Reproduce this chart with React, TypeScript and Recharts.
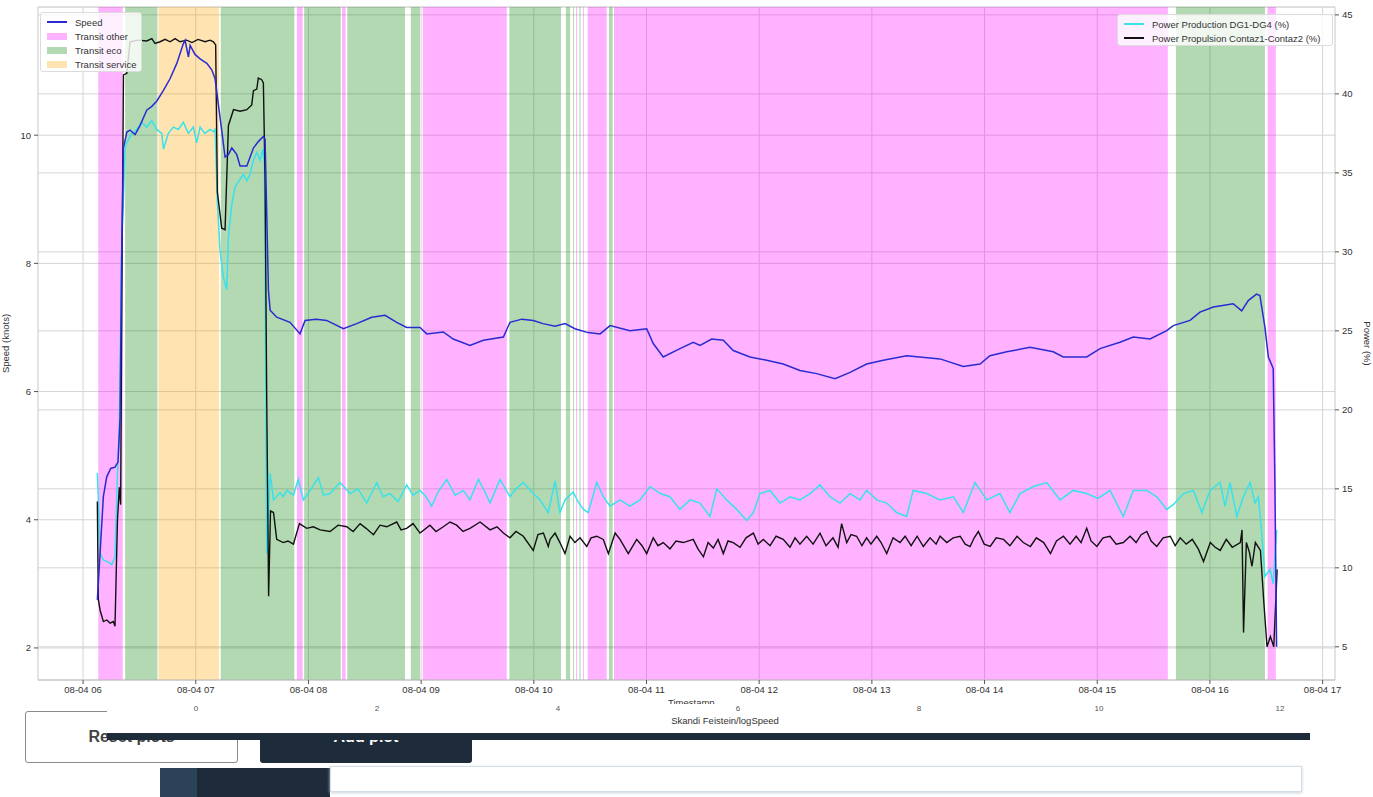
import React from 'react';
import {
  LineChart, Line, XAxis, YAxis, CartesianGrid, ReferenceArea,
} from 'recharts';

// time = minutes since midnight on 08-04
const HOUR_TICKS = [360, 420, 480, 540, 600, 660, 720, 780, 840, 900, 960, 1020];
const SPEED_TICKS = [2, 4, 6, 8, 10];
const POWER_TICKS = [5, 10, 15, 20, 25, 30, 35, 40, 45];

const speedSeries: [number, number][] = [
  [367.6, 2.75], [369.1, 3.5], [370.8, 4.36], [372.6, 4.67], [374.7, 4.8], [377.0, 4.82], [378.6, 4.9], [379.7, 5.6],
  [380.5, 8.0], [381.5, 9.8], [383.3, 10.05], [385.0, 10.08], [387.7, 10.01], [390.3, 10.15], [393.9, 10.39], [396.6, 10.45],
  [399.2, 10.53], [402.8, 10.7], [406.3, 10.88], [409.9, 11.12], [413.4, 11.43], [414.3, 11.48], [416.1, 11.22], [417.0, 11.4],
  [419.6, 11.26], [422.3, 11.19], [425.9, 11.12], [428.5, 11.02], [430.3, 10.88], [432.0, 10.49], [433.8, 10.08], [435.6, 9.66],
  [437.4, 9.7], [439.2, 9.8], [441.8, 9.7], [443.6, 9.52], [447.2, 9.52], [450.7, 9.8], [453.3, 9.9], [456.0, 9.98],
  [456.9, 9.94], [458.7, 7.58], [459.6, 7.27], [463.1, 7.16], [470.2, 7.08], [475.5, 6.9], [478.2, 7.11], [484.1, 7.13],
  [489.7, 7.11], [498.6, 6.98], [505.7, 7.06], [513.7, 7.16], [520.8, 7.19], [527.0, 7.08], [532.3, 7.0], [539.4, 7.0],
  [543.0, 6.9], [551.8, 6.93], [557.1, 6.82], [566.0, 6.72], [573.1, 6.8], [583.8, 6.85], [587.3, 7.08], [593.7, 7.13],
  [599.7, 7.11], [604.9, 7.06], [611.3, 7.02], [616.6, 7.06], [621.9, 6.98], [628.9, 6.92], [635.3, 6.9], [640.6, 7.03],
  [651.2, 6.95], [660.1, 6.98], [663.6, 6.75], [668.9, 6.54], [677.8, 6.67], [684.9, 6.77], [688.5, 6.72], [694.7, 6.82],
  [700.9, 6.8], [706.2, 6.64], [715.1, 6.54], [724.0, 6.49], [732.8, 6.43], [741.7, 6.33], [750.6, 6.28], [760.4, 6.2],
  [768.4, 6.3], [777.2, 6.43], [786.1, 6.49], [798.5, 6.56], [816.3, 6.51], [828.7, 6.39], [837.6, 6.43], [842.9, 6.56],
  [851.8, 6.62], [864.2, 6.69], [876.6, 6.62], [881.9, 6.54], [894.4, 6.54], [901.5, 6.67], [912.1, 6.77], [919.2, 6.85],
  [928.1, 6.82], [937.0, 6.95], [940.5, 7.03], [949.4, 7.11], [954.7, 7.24], [961.8, 7.32], [972.4, 7.37], [976.9, 7.26],
  [980.4, 7.42], [984.8, 7.52], [986.6, 7.5], [989.3, 7.0], [991.1, 6.54], [993.7, 6.36], [994.6, 4.57], [995.5, 2.02],
];

const productionSeries: [number, number][] = [
  [367.6, 16.0], [368.1, 14.5], [369.1, 10.9], [370.8, 10.5], [374.4, 10.3], [375.3, 10.2], [377.0, 10.7], [378.5, 16.6],
  [379.3, 18.7], [380.5, 30.0], [382.4, 36.6], [383.3, 36.9], [385.9, 37.5], [388.6, 37.75], [391.3, 38.2], [393.9, 37.9],
  [396.6, 38.3], [399.2, 37.75], [401.9, 37.5], [402.8, 36.5], [405.4, 37.5], [408.1, 37.9], [410.7, 37.75], [413.4, 38.2],
  [416.1, 37.5], [418.7, 37.9], [420.5, 36.9], [422.3, 37.9], [424.9, 37.5], [427.6, 37.75], [429.4, 37.6], [430.3, 37.75],
  [431.5, 33.2], [432.9, 30.1], [434.7, 28.4], [436.5, 27.6], [437.4, 31.0], [439.2, 33.0], [440.9, 34.1], [443.6, 34.6],
  [445.4, 34.9], [447.2, 34.5], [448.9, 34.9], [450.7, 35.8], [452.5, 36.3], [454.2, 35.8], [455.7, 36.5], [456.6, 35.5],
  [457.8, 10.9], [459.6, 16.0], [461.4, 14.3], [464.9, 14.75], [466.6, 14.5], [468.5, 14.9], [472.0, 14.6], [474.6, 15.6],
  [477.3, 14.3], [480.9, 14.9], [485.3, 15.7], [488.0, 14.6], [491.5, 14.7], [496.8, 15.4], [502.2, 14.7], [506.4, 15.0],
  [511.0, 14.1], [516.4, 15.4], [519.7, 14.5], [523.4, 14.7], [527.7, 14.2], [532.3, 15.25], [535.7, 14.6], [539.4, 14.9],
  [542.6, 14.5], [545.6, 13.9], [549.0, 14.8], [553.6, 15.6], [558.1, 14.6], [562.5, 14.9], [566.0, 14.3], [570.5, 15.6],
  [574.0, 14.8], [576.7, 14.1], [582.0, 15.6], [587.3, 14.5], [590.5, 15.0], [594.4, 15.4], [599.7, 14.7], [603.3, 14.3],
  [607.7, 13.5], [611.3, 15.5], [613.9, 13.5], [616.6, 14.3], [621.0, 14.8], [623.5, 14.2], [626.4, 13.7], [629.0, 13.5],
  [633.5, 15.4], [637.0, 14.5], [640.6, 13.9], [645.9, 14.3], [651.2, 13.9], [656.5, 14.3], [661.9, 15.15], [667.2, 14.7],
  [672.5, 14.5], [677.8, 13.7], [683.2, 14.3], [688.5, 14.1], [693.8, 13.25], [697.4, 15.0], [702.7, 14.3], [708.0, 13.7],
  [713.4, 13.0], [716.9, 13.5], [720.4, 14.7], [725.8, 14.9], [731.1, 14.1], [736.4, 14.5], [741.7, 14.3], [747.1, 14.7],
  [752.4, 15.25], [757.7, 14.5], [763.0, 14.1], [768.4, 14.7], [773.7, 14.3], [777.2, 14.9], [782.6, 14.3], [787.9, 14.1],
  [793.2, 13.5], [798.5, 13.25], [802.0, 14.9], [809.2, 14.7], [816.3, 14.3], [823.4, 14.5], [828.7, 13.5], [834.9, 15.4],
  [841.2, 14.3], [848.2, 14.7], [853.5, 13.5], [858.9, 14.7], [866.0, 15.15], [873.1, 15.4], [880.2, 14.3], [887.2, 14.9],
  [894.4, 14.7], [900.4, 14.4], [906.8, 14.9], [913.9, 13.25], [919.2, 14.9], [926.4, 14.9], [931.7, 14.5], [937.0, 13.7],
  [940.5, 14.0], [945.9, 14.7], [951.2, 14.9], [955.7, 13.5], [960.1, 14.9], [965.4, 15.4], [968.1, 13.9], [970.7, 15.4],
  [974.3, 13.25], [977.8, 14.5], [981.4, 15.4], [984.0, 14.1], [985.8, 14.5], [987.6, 12.2], [989.3, 9.45], [992.0, 9.9],
  [993.7, 9.0], [995.5, 12.4],
];

const propulsionSeries: [number, number][] = [
  [367.6, 14.2], [368.1, 8.0], [369.1, 7.3], [370.8, 6.6], [372.6, 6.7], [374.4, 6.5], [376.1, 6.6], [377.0, 6.3],
  [378.3, 13.0], [379.3, 15.1], [380.0, 14.0], [380.8, 30.0], [381.5, 41.2], [383.3, 41.3], [385.0, 43.3], [389.3, 43.4],
  [393.9, 43.35], [396.6, 43.5], [398.3, 43.2], [401.0, 43.3], [403.7, 43.45], [406.3, 43.3], [409.0, 43.5], [411.6, 43.3],
  [415.2, 43.4], [418.0, 43.25], [421.2, 43.45], [425.0, 43.3], [427.6, 43.4], [429.4, 43.3], [430.6, 43.1], [431.5, 33.8],
  [433.8, 31.5], [435.6, 31.4], [437.4, 38.0], [440.1, 39.0], [443.6, 38.9], [447.2, 39.0], [449.8, 39.3], [450.7, 40.2],
  [452.5, 40.3], [453.3, 41.0], [455.1, 40.9], [456.0, 40.7], [456.9, 34.6], [457.8, 20.5], [458.8, 8.2], [459.8, 13.6],
  [461.4, 13.5], [463.1, 11.8], [466.6, 11.6], [469.1, 11.7], [472.0, 11.5], [475.2, 12.8], [479.1, 12.5], [482.6, 12.6],
  [486.2, 12.4], [491.5, 12.3], [495.8, 12.7], [500.4, 12.6], [503.8, 12.3], [507.5, 12.8], [510.7, 12.5], [514.6, 12.1],
  [518.1, 12.7], [521.7, 12.6], [527.0, 12.9], [529.3, 12.4], [532.3, 12.5], [535.7, 12.8], [539.4, 12.2], [544.7, 12.7],
  [547.9, 12.3], [551.8, 12.6], [555.4, 12.9], [558.9, 12.7], [562.3, 12.3], [566.0, 12.5], [571.4, 12.9], [576.7, 12.4],
  [580.4, 12.6], [583.8, 12.2], [587.3, 11.9], [590.5, 12.3], [594.4, 12.0], [599.7, 11.1], [602.2, 12.1], [605.1, 12.2],
  [607.7, 11.35], [608.7, 11.8], [611.3, 12.2], [613.9, 11.6], [616.6, 10.9], [619.3, 12.0], [621.9, 11.6], [624.6, 11.9],
  [628.2, 11.35], [630.5, 11.9], [633.5, 12.0], [637.0, 11.8], [639.7, 10.9], [643.3, 12.2], [645.9, 11.8], [650.3, 10.9],
  [654.8, 11.8], [657.6, 11.4], [660.1, 10.9], [663.6, 11.9], [666.1, 11.4], [668.9, 11.6], [672.5, 11.2], [675.7, 11.7],
  [679.6, 11.6], [684.9, 11.8], [687.4, 11.2], [690.3, 10.7], [692.8, 11.6], [695.6, 11.25], [698.1, 11.8], [700.9, 10.9],
  [703.4, 11.7], [706.2, 11.6], [709.8, 11.3], [713.0, 11.9], [716.9, 12.2], [719.4, 11.5], [722.2, 11.8], [725.8, 11.4],
  [729.0, 12.0], [732.8, 11.8], [736.4, 11.3], [739.1, 11.9], [741.7, 11.5], [745.3, 12.0], [748.7, 11.5], [752.4, 12.2],
  [755.6, 11.4], [759.3, 11.9], [762.0, 11.3], [763.9, 12.8], [766.6, 11.6], [768.9, 12.1], [771.9, 12.0], [774.7, 11.4],
  [777.2, 11.9], [779.5, 11.5], [782.6, 12.0], [784.9, 11.6], [787.9, 10.9], [791.3, 11.9], [795.0, 11.6], [797.7, 12.0],
  [800.9, 11.4], [804.1, 12.0], [807.4, 11.35], [811.0, 11.9], [814.2, 11.5], [816.3, 12.0], [819.9, 11.6], [823.3, 11.9],
  [827.0, 12.0], [829.7, 11.5], [832.3, 11.35], [834.5, 11.9], [836.7, 12.3], [839.8, 11.5], [843.0, 11.35], [846.2, 11.9],
  [850.1, 11.8], [853.5, 11.4], [857.3, 12.0], [860.6, 11.6], [864.4, 11.35], [867.6, 11.9], [871.5, 11.6], [875.1, 10.9],
  [878.3, 11.7], [882.0, 12.0], [885.5, 11.5], [888.8, 12.0], [891.4, 11.6], [894.4, 12.5], [896.7, 11.7], [899.8, 11.35],
  [903.1, 11.9], [906.8, 12.0], [910.1, 11.5], [913.9, 11.6], [917.5, 12.0], [920.7, 11.6], [923.4, 12.1], [926.4, 12.3],
  [928.7, 11.7], [931.7, 11.35], [935.1, 11.9], [938.9, 12.0], [941.5, 11.4], [944.2, 11.9], [947.4, 11.5], [950.6, 11.8],
  [953.8, 11.2], [956.6, 10.4], [960.2, 11.6], [962.8, 11.3], [965.5, 11.1], [968.7, 11.8], [971.9, 11.3], [976.2, 11.6],
  [977.1, 12.4], [977.9, 5.9], [979.4, 11.6], [981.0, 11.0], [982.4, 10.1], [984.2, 11.6], [986.9, 11.1], [988.6, 8.0],
  [990.4, 5.0], [992.2, 5.65], [994.0, 5.0], [995.8, 9.9],
];

// transit mode spans: [start, end, mode]
const modeSpans: [number, number, string][] = [
  [368.1, 381.1, 'other'], [382.4, 399.6, 'eco'], [400.1, 432.4, 'service'], [433.3, 472.5, 'eco'],
  [473.9, 476.9, 'other'], [477.7, 497.2, 'eco'], [497.9, 499.8, 'other'], [500.7, 531.4, 'eco'],
  [534.5, 539.4, 'eco'], [540.9, 585.6, 'other'], [587.0, 614.5, 'eco'], [617.1, 619.3, 'eco'],
  [620.9, 621.4, 'eco'], [622.5, 623.0, 'other'], [624.3, 624.9, 'eco'], [626.2, 626.7, 'other'],
  [628.7, 638.8, 'other'], [640.0, 642.0, 'eco'], [642.7, 937.6, 'other'], [941.9, 989.3, 'eco'],
  [990.7, 995.1, 'other'],
];

const MODE_COLORS: Record<string, string> = {
  other: '#ff00ff',
  eco: '#008000',
  service: '#ffa500',
};

const SPEED_COLOR = '#2a2ad2';
const PROD_COLOR = '#38e2ea';
const PROP_COLOR = '#111111';

const toPoints = (s: [number, number][]) => s.map(([t, v]) => ({ t, v }));

const formatHour = (t: number) => `08-04 ${String(Math.round(t / 60)).padStart(2, '0')}`;

const tickStyle = { fontSize: 9.5, fill: '#333' };

const legendRow: React.CSSProperties = { fontSize: 9.5, color: '#333', whiteSpace: 'nowrap', height: 14, display: 'flex', alignItems: 'center' };

const LineSwatch = ({ color }: { color: string }) => (
  <span style={{ display: 'inline-block', width: 20, height: 2, background: color, marginRight: 8, flex: 'none' }} />
);

const PatchSwatch = ({ color }: { color: string }) => (
  <span style={{ display: 'inline-block', width: 20, height: 7, background: color, opacity: 0.3, marginRight: 8, flex: 'none' }} />
);

const panelTicks = [
  { x: 196, label: '0' }, { x: 377, label: '2' }, { x: 558, label: '4' }, { x: 738, label: '6' },
  { x: 919, label: '8' }, { x: 1099, label: '10' }, { x: 1280, label: '12' },
];

export default function App() {
  return (
    <div style={{ position: 'absolute', left: 0, top: 0, width: 1373, height: 797, background: '#fff', overflow: 'hidden', fontFamily: '"Liberation Sans", Arial, sans-serif' }}>
      <LineChart width={1373} height={705} margin={{ top: 7, right: 0, bottom: 0, left: 0 }}>
        <CartesianGrid yAxisId="left" stroke="#d4d4d4" strokeWidth={1} verticalValues={HOUR_TICKS} />
        <CartesianGrid yAxisId="right" stroke="#d4d4d4" strokeWidth={1} vertical={false} />
        <XAxis
          dataKey="t"
          type="number"
          domain={[336, 1026.6]}
          ticks={HOUR_TICKS}
          tickFormatter={formatHour}
          allowDataOverflow
          height={25}
          tick={tickStyle}
          tickSize={4}
          axisLine={{ stroke: '#c8c8c8' }}
          tickLine={{ stroke: '#555' }}
        />
        <XAxis
          xAxisId="top"
          orientation="top"
          type="number"
          domain={[336, 1026.6]}
          height={0}
          tick={false}
          tickLine={false}
          axisLine={{ stroke: '#c8c8c8' }}
        />
        <YAxis
          yAxisId="left"
          domain={[1.5, 12]}
          ticks={SPEED_TICKS}
          allowDataOverflow
          width={38}
          tick={tickStyle}
          tickSize={4}
          tickMargin={3}
          axisLine={{ stroke: '#c8c8c8' }}
          tickLine={{ stroke: '#555' }}
          label={{ value: 'Speed (knots)', angle: -90, position: 'insideLeft', offset: 6, style: { textAnchor: 'middle', fontSize: 9.5, fill: '#333' } }}
        />
        <YAxis
          yAxisId="right"
          orientation="right"
          domain={[2.9, 45.5]}
          ticks={POWER_TICKS}
          allowDataOverflow
          width={38}
          tick={tickStyle}
          tickSize={4}
          tickMargin={3}
          axisLine={{ stroke: '#c8c8c8' }}
          tickLine={{ stroke: '#555' }}
          label={{ value: 'Power (%)', angle: 90, position: 'insideRight', offset: 6, style: { textAnchor: 'middle', fontSize: 9.5, fill: '#333' } }}
        />
        {modeSpans.map(([x1, x2, mode], i) => (
          <ReferenceArea
            key={`span-${i}`}
            yAxisId="left"
            x1={x1}
            x2={x2}
            fill={MODE_COLORS[mode]}
            fillOpacity={0.3}
            stroke="none"
            ifOverflow="hidden"
          />
        ))}
        <Line
          yAxisId="right"
          data={toPoints(productionSeries)}
          dataKey="v"
          type="linear"
          stroke={PROD_COLOR}
          strokeWidth={1.5}
          dot={false}
          isAnimationActive={false}
        />
        <Line
          yAxisId="right"
          data={toPoints(propulsionSeries)}
          dataKey="v"
          type="linear"
          stroke={PROP_COLOR}
          strokeWidth={1.4}
          dot={false}
          isAnimationActive={false}
        />
        <Line
          yAxisId="left"
          data={toPoints(speedSeries)}
          dataKey="v"
          type="linear"
          stroke={SPEED_COLOR}
          strokeWidth={1.5}
          dot={false}
          isAnimationActive={false}
        />
      </LineChart>

      {/* left legend */}
      <div style={{ position: 'absolute', left: 40, top: 12, width: 102, height: 60, background: 'rgba(255,255,255,0.8)', border: '1px solid #dcdcdc', borderRadius: 3, padding: '2px 0 0 6px', boxSizing: 'border-box' }}>
        <div style={legendRow}><LineSwatch color={SPEED_COLOR} />Speed</div>
        <div style={legendRow}><PatchSwatch color={MODE_COLORS.other} />Transit other</div>
        <div style={legendRow}><PatchSwatch color={MODE_COLORS.eco} />Transit eco</div>
        <div style={legendRow}><PatchSwatch color={MODE_COLORS.service} />Transit service</div>
      </div>

      {/* right legend */}
      <div style={{ position: 'absolute', left: 1117, top: 14, width: 216, height: 32, background: 'rgba(255,255,255,0.8)', border: '1px solid #dcdcdc', borderRadius: 3, padding: '2px 0 0 6px', boxSizing: 'border-box' }}>
        <div style={legendRow}><LineSwatch color={PROD_COLOR} />Power Production DG1-DG4 (%)</div>
        <div style={legendRow}><LineSwatch color={PROP_COLOR} />Power Propulsion Contaz1-Contaz2 (%)</div>
      </div>

      <div style={{ position: 'absolute', left: 668, top: 697, fontSize: 9.5, color: '#333' }}>Timestamp</div>

      {/* page controls below the plot */}
      <div style={{ position: 'absolute', left: 25, top: 711, width: 213, height: 52, border: '1.5px solid #8a8a8a', borderRadius: 3, background: '#fff', boxSizing: 'border-box', display: 'flex', alignItems: 'center', justifyContent: 'center', fontSize: 16, fontWeight: 700, color: '#444' }}>Reset plots</div>
      <div style={{ position: 'absolute', left: 260, top: 711, width: 212, height: 52, borderRadius: 3, background: '#1e2b3a', display: 'flex', alignItems: 'center', justifyContent: 'center', fontSize: 16, fontWeight: 700, color: '#fff' }}>Add plot</div>

      <div style={{ position: 'absolute', left: 107, top: 704, width: 1203, height: 29, background: '#fff', overflow: 'hidden', borderBottom: '7px solid #1e2b3a' }}>
        {panelTicks.map((p) => (
          <div key={p.label} style={{ position: 'absolute', left: p.x - 107 - 10, width: 20, top: 0, lineHeight: '10px', textAlign: 'center', fontSize: 8, color: '#555' }}>{p.label}</div>
        ))}
        <div style={{ position: 'absolute', left: 0, width: 1236, top: 11, textAlign: 'center', fontSize: 9.5, color: '#333' }}>Skandi Feistein/logSpeed</div>
      </div>

      <div style={{ position: 'absolute', left: 160, top: 768, width: 37, height: 29, background: '#2c4259' }} />
      <div style={{ position: 'absolute', left: 197, top: 768, width: 133, height: 29, background: '#1e2b3a' }} />
      <div style={{ position: 'absolute', left: 330, top: 766, width: 972, height: 26, background: '#fff', border: '1px solid #d3dde7', boxShadow: '0 1px 3px #c9d5e0', boxSizing: 'border-box' }} />
    </div>
  );
}
